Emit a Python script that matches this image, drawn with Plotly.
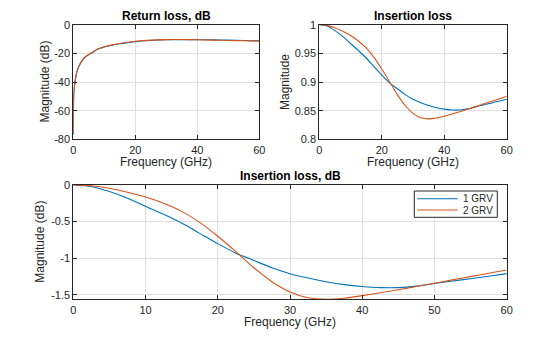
import plotly.graph_objects as go

# ---------------- data ----------------
freq_rl = [0, 0.1, 0.25, 0.5, 1, 1.5, 2, 3, 4, 5, 6, 8, 10, 12.5, 15, 17.5,
           20, 25, 30, 35, 40, 45, 50, 55, 60]
rl_1grv = [-77, -52, -46, -41, -34.5, -30.8, -28.3, -24.8, -22.5, -20.9, -19.7,
           -17.0, -15.6, -14.3, -13.3, -12.5, -11.8, -11.0, -10.5, -10.4,
           -10.5, -10.6, -10.8, -11.0, -11.2]
rl_2grv = [-76, -51, -45, -40.3, -34.0, -30.3, -27.9, -24.5, -22.2, -20.6, -19.4,
           -16.8, -15.4, -14.1, -13.1, -12.3, -11.6, -10.8, -10.4, -10.35,
           -10.55, -10.75, -11.0, -11.25, -11.5]

freq_il = [0, 2.5, 5, 7.5, 10, 12.5, 15, 17.5, 20, 22.5, 25, 27.5, 30, 32.5,
           35, 37.5, 40, 42.5, 45, 47.5, 50, 52.5, 55, 57.5, 60]
il_db_1grv = [0, -0.02, -0.09, -0.18, -0.29, -0.40, -0.52, -0.66, -0.80,
              -0.93, -1.03, -1.13, -1.21, -1.27, -1.32, -1.36, -1.385, -1.40,
              -1.40, -1.38, -1.345, -1.31, -1.28, -1.245, -1.21]
il_db_2grv = [0, -0.01, -0.045, -0.10, -0.165, -0.25, -0.36, -0.51, -0.70,
              -0.91, -1.13, -1.32, -1.46, -1.54, -1.56, -1.545, -1.51, -1.47,
              -1.43, -1.385, -1.34, -1.295, -1.25, -1.205, -1.16]

# linear magnitude corresponding to the dB insertion loss
il_mag_1grv = [10 ** (v / 20) for v in il_db_1grv]
il_mag_2grv = [10 ** (v / 20) for v in il_db_2grv]

series_names = ["1 GRV", "2 GRV"]
colors = ["#0072BD", "#D95319"]

titles = ["Return loss, dB", "Insertion loss", "Insertion loss, dB"]
xlabel = "Frequency (GHz)"
ylabels = ["Magnitude (dB)", "Magnitude", "Magnitude (dB)"]

x_ticks_top = [0, 20, 40, 60]
x_ticks_bot = [0, 10, 20, 30, 40, 50, 60]
y1_ticks = [0, -20, -40, -60, -80]
y2_ticks = [1, 0.95, 0.9, 0.85, 0.8]
y3_ticks = [0, -0.5, -1, -1.5]

# ---------------- figure ----------------
W, H = 560, 337
FONT = "Liberation Sans, Arial, Helvetica, sans-serif"
TXT = "#262626"


def px_x(p):
    return p / W


def px_y(p):
    return 1 - p / H


fig = go.Figure()

sets = [
    (freq_rl, [rl_1grv, rl_2grv], "x", "y"),
    (freq_il, [il_mag_1grv, il_mag_2grv], "x2", "y2"),
    (freq_il, [il_db_1grv, il_db_2grv], "x3", "y3"),
]
for fx, ys, xa, ya in sets:
    for name, yv, c in zip(series_names, ys, colors):
        fig.add_trace(go.Scatter(
            x=fx, y=yv, mode="lines", name=name, xaxis=xa, yaxis=ya,
            line=dict(color=c, width=1.1, shape="spline", smoothing=0.6),
            showlegend=False, hoverinfo="skip",
        ))


def axis_common():
    return dict(
        showline=True, linecolor=TXT, linewidth=1, mirror="allticks",
        ticks="inside", ticklen=4, tickcolor=TXT, tickwidth=1,
        showgrid=True, gridcolor="#DFDFDF", gridwidth=1, zeroline=False,
        tickfont=dict(family=FONT, size=11, color=TXT),
        fixedrange=True, automargin=False,
    )


# axes boxes in pixels (left, right, top, bottom)
tl = (73.3, 259.3, 24.7, 139.3)
tr = (319.3, 506.7, 24.7, 139.3)
bt = (73.3, 506.7, 185.0, 299.3)


def dom(box):
    x0, x1, y0, y1 = box
    return [px_x(x0), px_x(x1)], [px_y(y1), px_y(y0)]


d1x, d1y = dom(tl)
d2x, d2y = dom(tr)
d3x, d3y = dom(bt)


def lab(vals):
    return ["%g" % v for v in vals]


ymin3 = min(min(il_db_1grv), min(il_db_2grv))

fig.update_layout(
    template="none",
    width=W, height=H, autosize=False,
    margin=dict(l=0, r=0, t=0, b=0, pad=0),
    paper_bgcolor="white", plot_bgcolor="white",
    font=dict(family=FONT, color=TXT),
    showlegend=False,
    xaxis=dict(domain=d1x, range=[0, 60], anchor="y", tickvals=x_ticks_top,
               ticktext=lab(x_ticks_top), **axis_common()),
    yaxis=dict(domain=d1y, range=[-80, 0], anchor="x", tickvals=y1_ticks,
               ticktext=lab(y1_ticks), **axis_common()),
    xaxis2=dict(domain=d2x, range=[0, 60], anchor="y2", tickvals=x_ticks_top,
                ticktext=lab(x_ticks_top), **axis_common()),
    yaxis2=dict(domain=d2y, range=[0.8, 1.0], anchor="x2", tickvals=y2_ticks,
                ticktext=lab(y2_ticks), **axis_common()),
    xaxis3=dict(domain=d3x, range=[0, 60], anchor="y3", tickvals=x_ticks_bot,
                ticktext=lab(x_ticks_bot), **axis_common()),
    yaxis3=dict(domain=d3y, range=[ymin3, 0], anchor="x3", tickvals=y3_ticks,
                ticktext=lab(y3_ticks), **axis_common()),
)

ann = []
shapes = []
# titles and x labels
for box, t in zip([tl, tr, bt], titles):
    x0, x1, y0, y1 = box
    ann.append(dict(text="<b>%s</b>" % t, x=px_x((x0 + x1) / 2), y=px_y(y0 - 9),
                    xref="paper", yref="paper", xanchor="center", yanchor="middle",
                    showarrow=False, font=dict(family=FONT, size=12, color="black")))
    ann.append(dict(text=xlabel, x=px_x((x0 + x1) / 2), y=px_y(y1 + 22.7),
                    xref="paper", yref="paper", xanchor="center", yanchor="middle",
                    showarrow=False, font=dict(family=FONT, size=12, color=TXT)))
ylab_x = [44.5, 285, 40.5]
for box, t, lx in zip([tl, tr, bt], ylabels, ylab_x):
    x0, x1, y0, y1 = box
    ann.append(dict(text=t, x=px_x(lx), y=px_y((y0 + y1) / 2), textangle=-90,
                    xref="paper", yref="paper", xanchor="center", yanchor="middle",
                    showarrow=False, font=dict(family=FONT, size=12, color=TXT)))

# legend (MATLAB-style compact box) inside the bottom axes
leg_box = (414.3, 497.3, 191.0, 217.3)
shapes.append(dict(type="rect", xref="paper", yref="paper",
                   x0=px_x(leg_box[0]), x1=px_x(leg_box[1]),
                   y0=px_y(leg_box[3]), y1=px_y(leg_box[2]),
                   line=dict(color=TXT, width=1), fillcolor="white", layer="above"))
row_y = [198.7, 210.0]
for name, c, ry in zip(series_names, colors, row_y):
    shapes.append(dict(type="line", xref="paper", yref="paper",
                       x0=px_x(417.3), x1=px_x(457.7), y0=px_y(ry), y1=px_y(ry),
                       line=dict(color=c, width=1.1), layer="above"))
    ann.append(dict(text=name, x=px_x(460.5), y=px_y(ry), xref="paper", yref="paper",
                    xanchor="left", yanchor="middle", showarrow=False,
                    font=dict(family=FONT, size=10, color=TXT)))

fig.update_layout(annotations=ann, shapes=shapes)

fig.write_html("out.html")
